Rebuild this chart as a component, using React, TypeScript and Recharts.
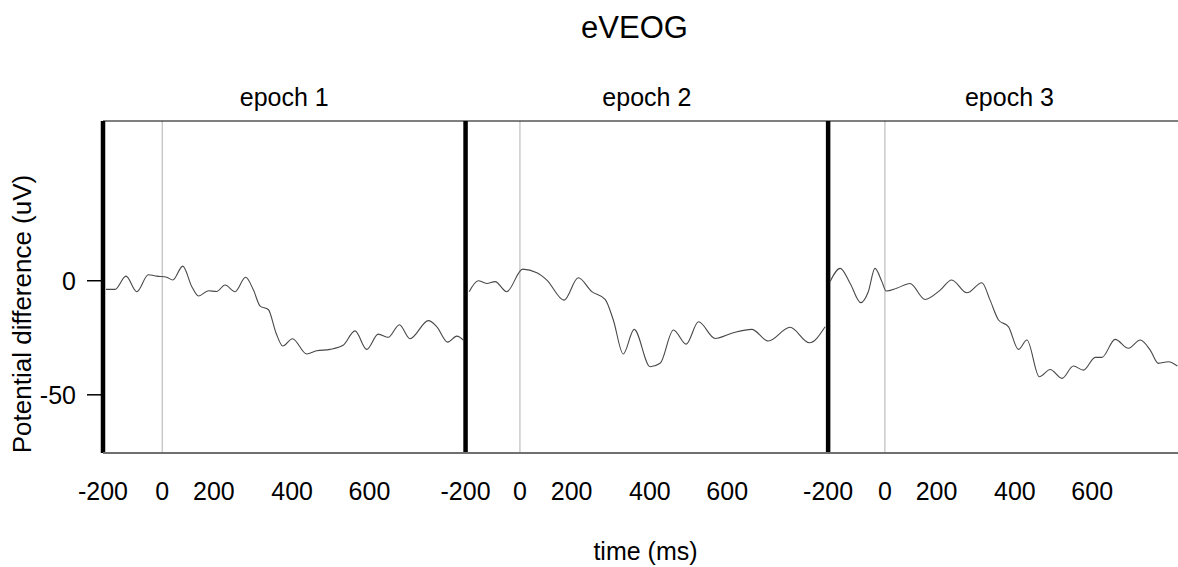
import { LineChart, Line, XAxis, YAxis, ReferenceLine } from "recharts";

const FONT = '"Liberation Sans", Arial, sans-serif';

// the three epochs sit side by side on one strip, 1200 units each
const epochStarts = [0, 1200, 2400];
// where stimulus onset (0 ms) falls in each epoch
const epochOnsets = [196, 1380, 2588];
const epochNames = ["epoch 1", "epoch 2", "epoch 3"];
const X_MAX = 3558;

// label positions measured from onset, as printed on the original
const tickOffsets = [0, 171, 430, 686];
const tickLabels = ["0", "200", "400", "600"];

const epoch1Time = [
  -186, -156, -120, -84, -46, -18, 15, 35, 68, 98, 120, 153, 180, 208, 241,
  276, 302, 324, 351, 377, 399, 431, 478, 511, 555, 599, 638, 677, 715, 748,
  785, 820, 881, 909, 945, 975, 999,
];
const epoch1Value = [
  -3.8, -3.8, 2, -4.8, 2.6, 2, 1.5, 0.3, 6.4, -2.6, -6.7, -4.4, -4.7, -1.9,
  -4.8, 1.5, -4.1, -11.1, -12.6, -23, -28.6, -25.4, -32.1, -30.7, -30.1, -28.3,
  -22, -30.1, -23.4, -24.8, -19.3, -25.4, -17.5, -20.2, -26.9, -24.3, -26.3,
];

const epoch2Time = [
  -168, -138, -110, -82, -44, 9, 56, 89, 146, 193, 238, 282, 309, 342, 378,
  431, 464, 508, 550, 591, 646, 706, 767, 822, 894, 958, 1010,
];
const epoch2Value = [
  -4.8, 0, -1.2, -0.4, -4.8, 5.1, 3.5, 0.3, -8.5, 1.3, -4.8, -8.2, -17.2,
  -32.1, -21.3, -37.7, -36.2, -21.6, -27.8, -18, -25.3, -22.8, -21.3, -26.4,
  -20.4, -27.2, -20.2,
];

const epoch3Time = [
  -182, -148, -115, -80, -55, -33, -10, 4, 39, 83, 133, 183, 221, 271, 321,
  348, 376, 409, 442, 470, 511, 547, 586, 624, 657, 696, 718, 762, 806, 845,
  878, 905, 938, 968,
];
const epoch3Value = [
  -0.4, 5.4, -1.2, -9.6, -4.8, 5.4, -0.4, -4.5, -3.3, -1.2, -8.2, -4.1, 0.3,
  -5.3, -0.9, -8.5, -17.2, -20.2, -30.1, -26, -42.1, -38.9, -42.8, -37.4,
  -39.2, -33.6, -33.6, -25.7, -29.6, -26, -30.4, -36.2, -35.5, -37.4,
];

const toRows = (times: number[], values: number[], onset: number) =>
  times.map((t, i) => ({ x: onset + t, v: values[i] }));

export default function App() {
  const series = [
    toRows(epoch1Time, epoch1Value, epochOnsets[0]),
    toRows(epoch2Time, epoch2Value, epochOnsets[1]),
    toRows(epoch3Time, epoch3Value, epochOnsets[2]),
  ];

  const tickText = new Map<number, string>();
  epochStarts.forEach((s, k) => {
    tickText.set(s, "-200");
    tickOffsets.forEach((o, j) => tickText.set(epochOnsets[k] + o, tickLabels[j]));
  });
  const bottomTicks = Array.from(tickText.keys());

  const centers = epochStarts.map((s) => s + 600);
  const tickFont = { fill: "#000", fontSize: 25, fontFamily: FONT };

  return (
    <div
      style={{
        position: "absolute",
        left: 0,
        top: 0,
        width: 1178,
        height: 567,
        background: "#fff",
        overflow: "hidden",
      }}
    >
      <LineChart
        width={1178}
        height={567}
        margin={{ top: 0, right: 0, bottom: 0, left: 0 }}
      >
        <XAxis
          xAxisId="top"
          orientation="top"
          type="number"
          dataKey="x"
          domain={[0, X_MAX]}
          allowDataOverflow
          ticks={centers}
          interval={0}
          tickFormatter={(v: number) => epochNames[centers.indexOf(v)]}
          height={121}
          tickLine={false}
          tickSize={0}
          tickMargin={15}
          axisLine={{ stroke: "#000", strokeWidth: 1 }}
          tick={tickFont}
          label={{
            value: "eVEOG",
            position: "insideTop",
            offset: 16,
            dx: -6,
            fontSize: 31,
            fill: "#000",
            fontFamily: FONT,
          }}
        />
        <XAxis
          type="number"
          dataKey="x"
          domain={[0, X_MAX]}
          allowDataOverflow
          ticks={bottomTicks}
          interval={0}
          tickFormatter={(v: number) => tickText.get(v) ?? ""}
          height={114}
          tickLine={false}
          tickSize={0}
          tickMargin={29}
          axisLine={{ stroke: "#707070", strokeWidth: 2 }}
          tick={tickFont}
          label={{
            value: "time (ms)",
            position: "insideBottom",
            offset: 7,
            dx: 5,
            fontSize: 25,
            fill: "#000",
            fontFamily: FONT,
          }}
        />
        <YAxis
          type="number"
          domain={[-75.5, 70]}
          allowDataOverflow
          ticks={[-50, 0]}
          interval={0}
          width={103}
          tickSize={16}
          tickMargin={11}
          axisLine={false}
          tickLine={{ stroke: "#000", strokeWidth: 1.5 }}
          tick={tickFont}
          label={{
            value: "Potential difference (uV)",
            angle: -90,
            position: "insideLeft",
            offset: 22,
            dy: 27,
            textAnchor: "middle",
            fontSize: 26,
            fill: "#000",
            fontFamily: FONT,
          }}
        />

        {epochOnsets.map((x) => (
          <ReferenceLine key={"on" + x} x={x} stroke="#b0b0b0" strokeWidth={1} />
        ))}
        {epochStarts.map((x) => (
          <ReferenceLine key={"ep" + x} x={x} stroke="#000" strokeWidth={4.5} />
        ))}

        {series.map((rows, k) => (
          <Line
            key={k}
            data={rows}
            dataKey="v"
            type="monotone"
            stroke="#484848"
            strokeWidth={1.1}
            dot={false}
            isAnimationActive={false}
          />
        ))}
      </LineChart>
    </div>
  );
}
